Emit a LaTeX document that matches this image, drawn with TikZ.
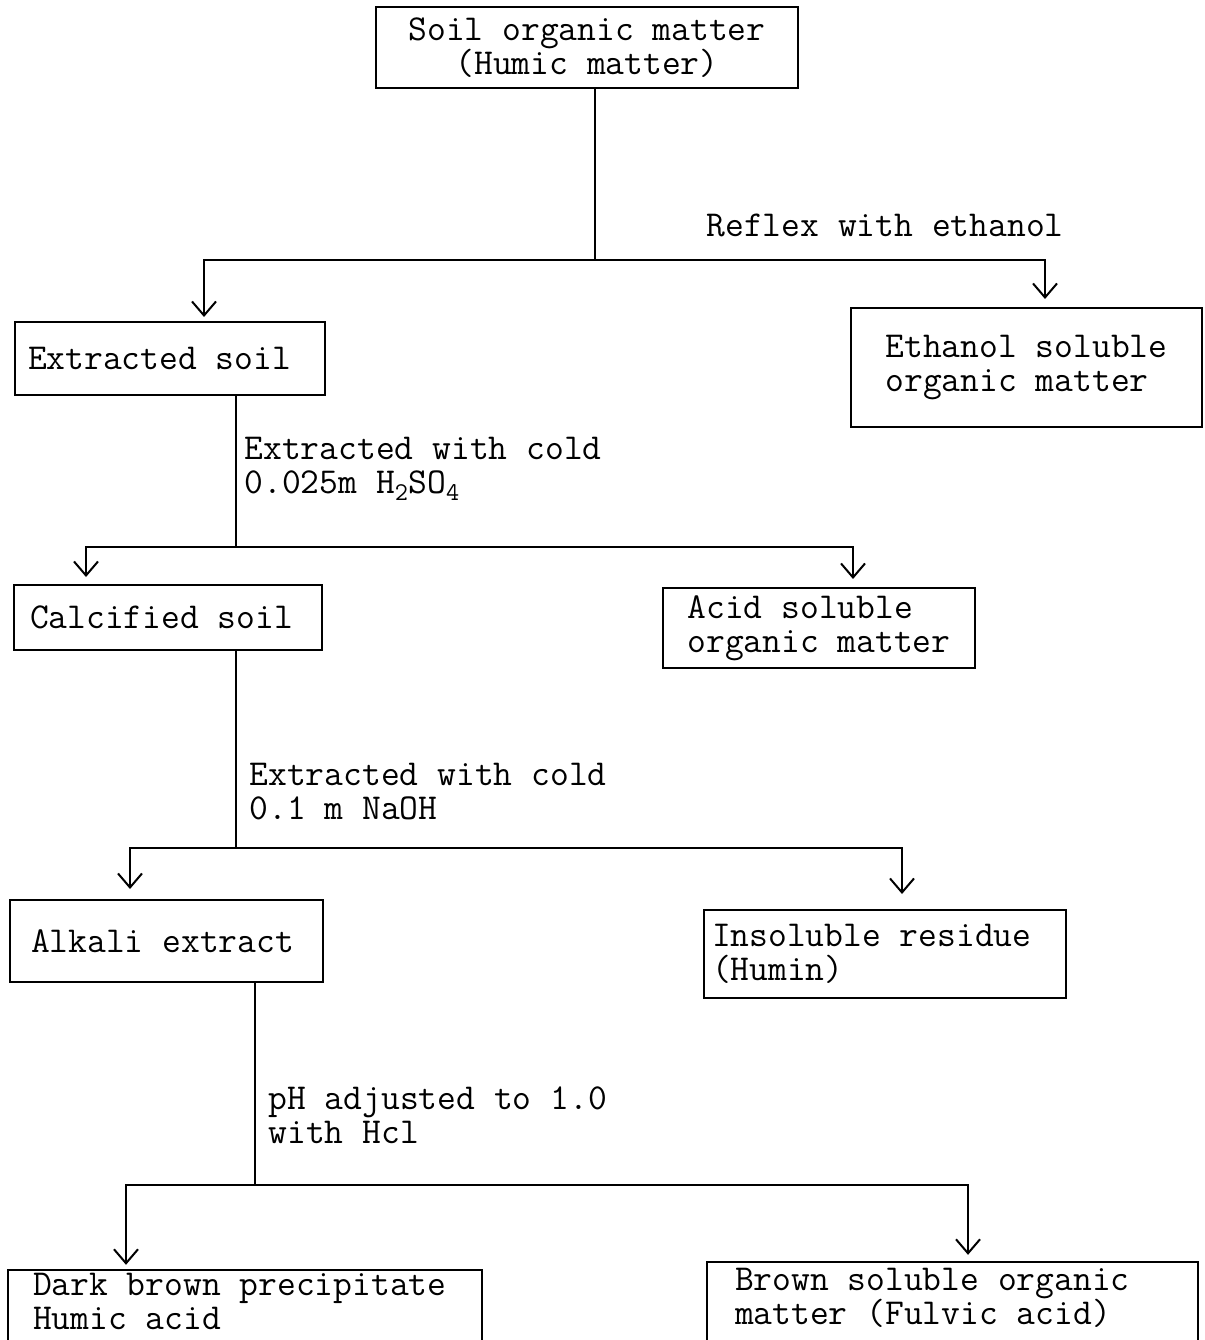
\documentclass[tikz,border=0pt]{standalone}
\usepackage{fontspec}
\usetikzlibrary{arrows.meta}

\begin{document}
\begin{tikzpicture}[x=1pt,y=-1pt,
	every node/.style={font=\ttfamily\fontsize{36.5}{34}\selectfont},
	box/.style={draw,line width=2pt,align=flush left,inner ysep=0pt},
	openbox/.style={align=flush left,inner ysep=0pt},
	edge/.style={line width=2pt},
	flow/.style={line width=2pt,-{Straight Barb[length=14pt,width=24pt,line width=2pt]}}]
	\useasboundingbox (0,0) rectangle (1204,1340);
	\clip (0,0) rectangle (1204,1340);
	% boxes
	\node[box,align=center,inner xsep=0pt,minimum width=422,minimum height=81] (soil) at (587,47.5) {Soil organic matter\\(Humic matter)};
	\node[box,inner xsep=13pt,text width=284pt,minimum height=73] (extsoil) at (170,358.5) {Extracted soil};
	\node[box,inner xsep=0pt,minimum width=351,minimum height=119] (ethsol) at (1026.5,367.5) {Ethanol soluble\\organic matter};
	\node[box,inner xsep=16pt,text width=276pt,minimum height=65] (calcsoil) at (168,617.5) {Calcified soil};
	\node[box,inner xsep=0pt,minimum width=312,minimum height=80] (acidsol) at (819,628) {Acid soluble\\organic matter};
	\node[box,inner xsep=21pt,text width=271pt,minimum height=82] (alkext) at (166.5,941) {Alkali extract};
	\node[box,inner xsep=8pt,text width=346pt,minimum height=88] (humin) at (885,954) {Insoluble residue\\(Humin)};
	\node[openbox,inner xsep=25pt,text width=424pt,minimum height=62] (humic) at (245,1301) {Dark brown precipitate\\Humic acid};
	\node[openbox,inner xsep=28pt,text width=435pt,minimum height=72] (fulvic) at (952.5,1298) {Brown soluble organic\\matter (Fulvic acid)};
	\draw[edge] ([yshift=-30]humic.south west) -- (humic.north west) -- (humic.north east) -- ([yshift=-30]humic.south east);
	\draw[edge] ([yshift=-30]fulvic.south west) -- (fulvic.north west) -- (fulvic.north east) -- ([yshift=-30]fulvic.south east);
	% branch points
	\coordinate (j1) at (595,260);
	\coordinate (j2) at (236,547);
	\coordinate (j3) at (236,848);
	\coordinate (j4) at (255,1185);
	% step labels
	\node[anchor=west] (lab1) at (703,225) {Reflex with ethanol};
	\node[anchor=west,align=left] (lab2) at (241,469) {Extracted with cold\\0.025m H\textsubscript{2}SO\textsubscript{4}};
	\node[anchor=west,align=left] (lab3) at (246,792) {Extracted with cold\\0.1 m NaOH};
	\node[anchor=west,align=left] (lab4) at (265,1115) {pH adjusted to 1.0\\with Hcl};
	% connectors
	\draw[edge] (j1 |- soil.south) -- (j1);
	\draw[flow,shorten >=4pt] (j1) -| ([xshift=34]extsoil.north);
	\draw[flow,shorten >=8pt] (j1) -| ([xshift=18.5]ethsol.north);
	\draw[edge] (j2 |- extsoil.south) -- (j2);
	\draw[flow,shorten >=7pt] (j2) -| ([xshift=-82]calcsoil.north);
	\draw[flow,shorten >=8pt] (j2) -| ([xshift=34]acidsol.north);
	\draw[edge] (j3 |- calcsoil.south) -- (j3);
	\draw[flow,shorten >=10pt] (j3) -| ([xshift=-36.5]alkext.north);
	\draw[flow,shorten >=15pt] (j3) -| ([xshift=17]humin.north);
	\draw[edge] (j4 |- alkext.south) -- (j4);
	\draw[flow,shorten >=5pt] (j4) -| ([xshift=-119]humic.north);
	\draw[flow,shorten >=7pt] (j4) -| ([xshift=15.5]fulvic.north);
\end{tikzpicture}
\end{document}
